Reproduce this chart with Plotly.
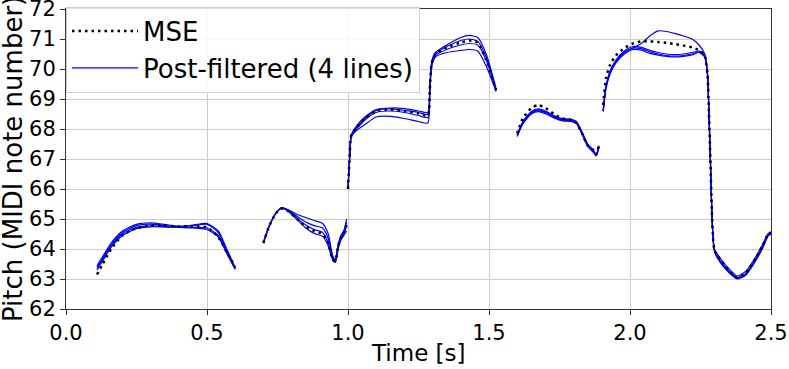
import plotly.graph_objects as go

# ---------------- data ----------------
t_seg1 = [0.11, 0.13, 0.16, 0.20, 0.25, 0.30, 0.35, 0.40, 0.45, 0.50, 0.54, 0.57, 0.60]
mse_seg1 = [63.15, 63.5, 64.0, 64.45, 64.7, 64.78, 64.78, 64.75, 64.75, 64.72, 64.4, 63.9, 63.4]
pf_seg1 = [
    [63.45, 63.75, 64.2, 64.6, 64.82, 64.87, 64.82, 64.76, 64.78, 64.82, 64.55, 63.95, 63.35],
    [63.4, 63.7, 64.15, 64.55, 64.78, 64.83, 64.78, 64.74, 64.8, 64.85, 64.6, 64.0, 63.38],
    [63.35, 63.65, 64.1, 64.5, 64.72, 64.77, 64.75, 64.73, 64.72, 64.7, 64.45, 63.9, 63.35],
    [63.3, 63.6, 64.05, 64.45, 64.68, 64.74, 64.73, 64.72, 64.7, 64.65, 64.4, 63.85, 63.32],
]

t_seg2 = [0.70, 0.72, 0.745, 0.765, 0.79, 0.82, 0.85, 0.88, 0.91, 0.93, 0.945, 0.955, 0.965, 0.975, 0.985, 0.995]
mse_seg2 = [64.2, 64.75, 65.2, 65.35, 65.25, 65.0, 64.75, 64.6, 64.5, 64.2, 63.65, 63.6, 64.1, 64.4, 64.55, 64.8]
pf_seg2 = [
    [64.2, 64.75, 65.2, 65.38, 65.3, 65.15, 65.05, 64.95, 64.85, 64.5, 63.8, 63.65, 64.15, 64.45, 64.6, 65.0],
    [64.22, 64.75, 65.2, 65.37, 65.28, 65.08, 64.9, 64.78, 64.7, 64.35, 63.75, 63.6, 64.1, 64.4, 64.55, 64.9],
    [64.22, 64.75, 65.2, 65.36, 65.26, 65.02, 64.8, 64.65, 64.55, 64.2, 63.7, 63.55, 64.05, 64.35, 64.5, 64.75],
    [64.2, 64.75, 65.2, 65.35, 65.24, 64.97, 64.7, 64.52, 64.42, 64.1, 63.65, 63.55, 64.0, 64.3, 64.45, 64.6],
]

t_seg3 = [1.00, 1.005, 1.012, 1.03, 1.06, 1.10, 1.15, 1.20, 1.25, 1.283, 1.29, 1.297, 1.31, 1.35, 1.40, 1.43, 1.46, 1.49, 1.525]
mse_seg3 = [66.0, 66.9, 67.8, 68.05, 68.35, 68.6, 68.65, 68.6, 68.52, 68.45, 69.3, 70.2, 70.5, 70.72, 70.88, 70.95, 70.88, 70.3, 69.3]
pf_seg3 = [
    [66.0, 66.9, 67.8, 68.1, 68.4, 68.65, 68.7, 68.68, 68.6, 68.55, 69.4, 70.25, 70.55, 70.8, 71.05, 71.12, 71.05, 70.5, 69.35],
    [66.0, 66.9, 67.8, 68.05, 68.35, 68.62, 68.67, 68.62, 68.55, 68.48, 69.35, 70.2, 70.5, 70.75, 70.95, 71.0, 70.92, 70.4, 69.3],
    [66.0, 66.9, 67.8, 68.0, 68.3, 68.55, 68.6, 68.55, 68.45, 68.38, 69.3, 70.15, 70.45, 70.65, 70.8, 70.85, 70.8, 70.3, 69.28],
    [66.0, 66.9, 67.75, 67.95, 68.15, 68.4, 68.42, 68.35, 68.25, 68.2, 69.2, 70.1, 70.4, 70.55, 70.62, 70.65, 70.6, 70.1, 69.25],
]

t_seg4 = [1.60, 1.62, 1.65, 1.675, 1.70, 1.73, 1.76, 1.79, 1.81, 1.83, 1.85, 1.87, 1.88, 1.89]
mse_seg4 = [67.85, 68.35, 68.7, 68.8, 68.7, 68.5, 68.35, 68.3, 68.2, 67.85, 67.45, 67.3, 67.15, 67.5]
pf_seg4 = [
    [67.8, 68.25, 68.58, 68.67, 68.6, 68.45, 68.35, 68.33, 68.25, 67.9, 67.5, 67.3, 67.15, 67.45],
    [67.8, 68.22, 68.55, 68.64, 68.57, 68.42, 68.32, 68.3, 68.23, 67.88, 67.48, 67.28, 67.13, 67.42],
    [67.78, 68.2, 68.52, 68.61, 68.54, 68.4, 68.3, 68.28, 68.2, 67.85, 67.45, 67.25, 67.12, 67.4],
    [67.75, 68.17, 68.5, 68.58, 68.51, 68.37, 68.27, 68.25, 68.18, 67.82, 67.42, 67.22, 67.1, 67.38],
]

t_seg5 = [1.905, 1.915, 1.93, 1.95, 1.98, 2.01, 2.04, 2.07, 2.10, 2.13, 2.16, 2.19, 2.22, 2.245, 2.265,
          2.275, 2.28, 2.285, 2.29, 2.295, 2.30, 2.32, 2.35, 2.38, 2.41, 2.44, 2.47, 2.49, 2.50]
mse_seg5 = [68.8, 69.7, 70.15, 70.45, 70.7, 70.85, 70.92, 70.92, 70.9, 70.87, 70.83, 70.78, 70.72, 70.62, 70.45,
            69.8, 68.5, 67.0, 65.3, 64.3, 63.95, 63.65, 63.3, 63.05, 63.2, 63.6, 64.1, 64.5, 64.55]
pf_seg5 = [
    [68.6, 69.4, 69.9, 70.25, 70.55, 70.7, 70.85, 71.1, 71.27, 71.25, 71.18, 71.1, 71.0, 70.8, 70.5,
     69.8, 68.5, 67.0, 65.3, 64.3, 63.98, 63.7, 63.35, 63.1, 63.25, 63.65, 64.15, 64.52, 64.55],
    [68.62, 69.45, 69.95, 70.3, 70.6, 70.75, 70.72, 70.62, 70.55, 70.5, 70.48, 70.5, 70.55, 70.6, 70.45,
     69.8, 68.5, 67.0, 65.3, 64.3, 63.95, 63.62, 63.28, 63.05, 63.18, 63.58, 64.08, 64.48, 64.53],
    [68.6, 69.4, 69.9, 70.25, 70.55, 70.7, 70.68, 70.57, 70.5, 70.45, 70.43, 70.45, 70.5, 70.57, 70.42,
     69.8, 68.5, 67.0, 65.3, 64.3, 63.92, 63.58, 63.25, 63.02, 63.15, 63.55, 64.05, 64.46, 64.52],
    [68.58, 69.35, 69.85, 70.2, 70.5, 70.65, 70.63, 70.52, 70.46, 70.42, 70.4, 70.42, 70.47, 70.55, 70.4,
     69.8, 68.5, 67.0, 65.3, 64.3, 63.9, 63.55, 63.22, 63.0, 63.12, 63.52, 64.02, 64.44, 64.5],
]

x_ticks = [0.0, 0.5, 1.0, 1.5, 2.0, 2.5]
x_tick_labels = ["0.0", "0.5", "1.0", "1.5", "2.0", "2.5"]
y_ticks = [62, 63, 64, 65, 66, 67, 68, 69, 70, 71, 72]
x_title = "Time [s]"
y_title = "Pitch (MIDI note number)"

# ---------------- build joined series (gaps between segments) ----------------
segments = [
    (t_seg1, mse_seg1, pf_seg1),
    (t_seg2, mse_seg2, pf_seg2),
    (t_seg3, mse_seg3, pf_seg3),
    (t_seg4, mse_seg4, pf_seg4),
    (t_seg5, mse_seg5, pf_seg5),
]


def join(parts):
    out = []
    for i, p in enumerate(parts):
        if i:
            out.append(None)
        out.extend(p)
    return out


t_all = join([s[0] for s in segments])
mse_all = join([s[1] for s in segments])
pf_all = [join([s[2][k] for s in segments]) for k in range(4)]

FONT = "DejaVu Sans"
fig = go.Figure()

for k, y in enumerate(pf_all):
    fig.add_trace(go.Scatter(
        x=t_all, y=y, mode="lines",
        line=dict(color="#0000ff", width=1.2, shape="spline", smoothing=0.6),
        name="Post-filtered (4 lines)", showlegend=(k == 0), legendrank=2,
        hoverinfo="skip",
    ))

fig.add_trace(go.Scatter(
    x=t_all, y=mse_all, mode="lines",
    line=dict(color="black", width=2.5, dash="2.5px,4px", shape="spline", smoothing=0.6),
    name="MSE", legendrank=1, hoverinfo="skip",
))

axis_common = dict(
    showline=True, linecolor="#333333", linewidth=1, mirror=True,
    showgrid=True, gridcolor="#cccccc", gridwidth=1,
    ticks="outside", ticklen=5, tickcolor="#333333", tickwidth=1,
    zeroline=False, automargin=False, ticklabeloverflow="allow",
    tickfont=dict(family=FONT, size=21, color="black"),
)

fig.update_layout(
    width=789, height=369,
    margin=dict(l=66, r=18, t=9, b=60, autoexpand=False),
    paper_bgcolor="white", plot_bgcolor="white",
    font=dict(family=FONT, color="black"),
    xaxis=dict(range=[0, 2.5], tickvals=x_ticks, ticktext=x_tick_labels, **axis_common),
    yaxis=dict(range=[62, 72], tickvals=y_ticks, **axis_common),
    legend=dict(x=0.0, y=1.008, xanchor="left", yanchor="top",
                bgcolor="rgba(255,255,255,0.85)", bordercolor="#d0d0d0", borderwidth=1,
                font=dict(family=FONT, size=26, color="black"),
                itemwidth=66),
    showlegend=True,
    annotations=[
        dict(text=x_title, xref="paper", yref="paper", x=0.5, y=0, yshift=-44,
             xanchor="center", yanchor="middle", showarrow=False,
             font=dict(family=FONT, size=23, color="black")),
        dict(text=y_title, xref="paper", yref="paper", x=0, y=0.5, xshift=-53,
             xanchor="center", yanchor="middle", textangle=-90, showarrow=False,
             font=dict(family=FONT, size=26, color="black")),
    ],
)

fig.write_html(
    "out.html",
    config={"displayModeBar": False},
    post_script="document.body.style.margin='0';document.body.style.overflow='hidden';",
)
